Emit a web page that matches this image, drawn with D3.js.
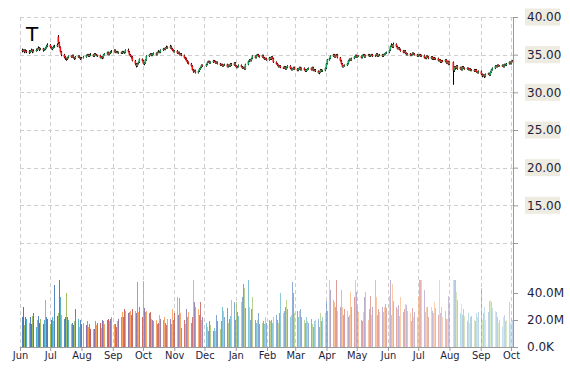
<!DOCTYPE html>
<html><head><meta charset="utf-8">
<script src="https://cdn.jsdelivr.net/npm/d3@7"></script>
<style>body{margin:0;background:#fff}svg{display:block}</style>
</head><body><svg id="c" width="570" height="370"></svg>
<script>
const ticker = "T";
const startDate = "2013-06-03";
const endDate = "2014-10-03";
const opens = [
35.6,35.5,35.6,35.4,35.5, 35.4,35.3,35.5,35.6,35.4, 35.5,35.6,35.8,35.9,35.7, 35.8,35.6,35.7,35.9,36.1,
36.3,36.0,35.8,35.9,36.0, 36.1,37.4,36.6,36.0,35.4, 35.0,34.7,34.5,34.4,34.6, 34.8,34.7,34.9,34.6,34.5,
34.7,34.8,34.6,34.5,34.6, 34.7,34.9,35.0,34.8,35.0, 35.0,34.8,35.1,35.0,34.9, 34.9,34.6,34.7,34.6,35.0,
35.1,35.3,35.0,35.2,35.4, 35.4,35.6,35.3,35.4,35.3, 35.3,35.2,35.4,35.3,35.3, 35.6,35.4,35.0,34.8,34.7,
34.2,33.8,33.5,33.8,34.0, 34.4,34.2,33.8,33.9,34.3, 34.8,35.0,35.1,34.9,35.1, 35.2,35.0,35.3,35.4,35.3,
35.6,35.8,35.7,35.9,36.0, 35.9,36.1,35.8,35.6,35.4, 35.5,35.2,35.3,35.0,35.1, 34.9,34.6,34.5,34.2,34.0,
33.8,33.5,33.0,32.8,32.9, 32.6,32.8,33.1,33.3,33.6, 33.5,33.7,34.0,34.1,33.9, 34.0,34.2,34.1,33.9,34.0,
33.8,33.6,33.7,33.5,33.6, 33.7,33.4,33.6,33.5,33.8, 33.6,33.9,33.5,33.3,33.4, 33.6,33.4,33.2,33.3,33.1,
33.7,34.1,34.3,34.2,34.5, 34.8,34.6,34.9,35.0,34.8, 34.7,34.9,34.6,34.4,34.5, 34.3,34.6,34.4,34.7,34.5,
34.0,33.8,33.6,33.4,33.5, 33.3,33.2,33.4,33.1,33.3, 33.5,33.2,33.0,33.1,33.3, 33.1,32.9,33.1,33.3,33.0,
33.2,33.0,32.8,33.0,33.1, 33.2,33.0,33.3,32.9,33.0, 32.8,32.6,32.7,33.0,32.8, 32.9,33.2,33.8,34.3,34.5,
34.8,35.0,34.7,34.9,35.0, 34.6,34.2,33.8,33.4,33.5, 33.6,33.8,34.2,34.4,34.3, 34.5,34.7,34.9,34.7,34.8,
34.8,34.6,34.9,35.0,34.7, 34.9,35.0,34.8,34.9,35.0, 34.8,34.9,35.1,34.8,34.9, 35.0,34.8,35.0,35.1,35.2,
35.3,35.6,36.1,36.3,36.0, 36.4,36.1,35.8,35.9,35.7, 35.5,35.3,35.5,35.2,35.0, 35.1,34.9,35.0,35.2,35.1,
35.0,34.8,34.9,35.0,34.8, 34.9,34.6,34.5,34.8,34.7, 34.5,34.7,34.4,34.6,34.4, 34.5,34.2,34.3,34.0,34.2,
34.1,34.3,33.9,34.1,33.7, 34.0,32.9,33.4,33.2,33.5, 33.1,33.3,33.0,33.4,33.2, 33.1,33.2,33.0,33.1,32.9,
33.0,32.8,33.0,32.7,32.6, 32.8,32.4,32.2,32.3,32.1, 32.4,32.5,32.3,32.7,33.0, 33.2,33.5,33.4,33.6,33.5,
33.5,33.6,33.4,33.7,33.6, 33.8,34.0,33.8,34.1,34.2
];
const highs = [
35.8,35.7,35.7,35.7,35.6, 35.6,35.6,35.8,35.7,35.7, 35.8,35.9,36.1,36.0,35.9, 35.9,35.8,36.0,36.3,36.5,
36.4,36.1,36.0,36.2,36.3, 36.5,37.6,36.7,36.1,35.5, 35.1,34.8,34.6,34.7,34.9, 34.9,35.0,35.0,34.7,34.8,
34.9,34.9,34.7,34.7,34.8, 35.0,35.1,35.1,35.1,35.2, 35.1,35.2,35.2,35.1,35.0, 35.0,34.8,34.8,35.1,35.2,
35.4,35.4,35.3,35.5,35.6, 35.7,35.7,35.5,35.5,35.4, 35.4,35.5,35.5,35.4,35.7, 35.8,35.5,35.1,34.9,34.8,
34.3,33.9,33.9,34.1,34.5, 34.5,34.3,34.0,34.4,34.9, 35.1,35.2,35.2,35.2,35.3, 35.3,35.4,35.6,35.5,35.7,
35.9,35.9,36.0,36.2,36.1, 36.3,36.2,35.9,35.7,35.6, 35.6,35.4,35.4,35.2,35.2, 35.0,34.7,34.6,34.3,34.1,
33.9,33.6,33.1,33.0,33.0, 32.9,33.2,33.4,33.7,33.7, 33.8,34.1,34.2,34.2,34.1, 34.3,34.3,34.2,34.1,34.1,
33.9,33.8,33.8,33.7,33.8, 33.8,33.7,33.7,33.9,33.9, 34.0,34.0,33.6,33.5,33.7, 33.7,33.5,33.4,33.4,33.8,
34.2,34.4,34.4,34.6,34.9, 34.9,35.0,35.1,35.1,34.9, 35.0,35.0,34.7,34.6,34.6, 34.7,34.7,34.8,34.8,34.6,
34.1,33.9,33.7,33.6,33.6, 33.4,33.5,33.5,33.4,33.6, 33.6,33.3,33.2,33.4,33.4, 33.2,33.2,33.4,33.4,33.3,
33.3,33.1,33.1,33.2,33.3, 33.3,33.4,33.4,33.1,33.1, 32.9,32.8,33.1,33.1,33.0, 33.3,33.9,34.4,34.6,34.9,
35.1,35.1,35.0,35.1,35.1, 34.7,34.3,33.9,33.6,33.7, 33.9,34.3,34.5,34.5,34.6, 34.8,35.0,35.0,34.9,34.9,
34.9,35.0,35.1,35.1,35.0, 35.1,35.1,35.0,35.1,35.1, 35.0,35.2,35.2,35.0,35.1, 35.1,35.1,35.2,35.3,35.4,
35.7,36.2,36.5,36.4,36.6, 36.5,36.2,36.0,36.0,35.8, 35.6,35.6,35.6,35.3,35.2, 35.2,35.1,35.3,35.3,35.2,
35.1,35.0,35.1,35.1,35.0, 35.0,34.7,34.9,34.9,34.8, 34.8,34.8,34.7,34.7,34.6, 34.6,34.4,34.4,34.3,34.3,
34.4,34.4,34.2,34.2,34.1, 34.1,33.5,33.5,33.6,33.6, 33.4,33.4,33.5,33.5,33.3, 33.3,33.3,33.2,33.2,33.1,
33.1,33.1,33.1,32.8,32.9, 32.9,32.5,32.4,32.4,32.5, 32.6,32.6,32.8,33.1,33.3, 33.6,33.6,33.7,33.7,33.6,
33.7,33.7,33.8,33.8,33.9, 34.1,34.1,34.2,34.3,34.3
];
const lows = [
35.3,35.4,35.2,35.3,35.2, 35.1,35.2,35.4,35.2,35.3, 35.4,35.5,35.7,35.5,35.6, 35.4,35.5,35.6,35.8,36.0,
35.9,35.7,35.6,35.8,35.9, 36.0,36.4,35.9,35.3,34.8, 34.5,34.3,34.2,34.3,34.5, 34.6,34.6,34.5,34.3,34.4,
34.6,34.5,34.3,34.4,34.5, 34.6,34.8,34.7,34.7,34.8, 34.7,34.7,34.9,34.8,34.7, 34.5,34.5,34.4,34.5,34.9,
35.0,34.9,34.9,35.1,35.2, 35.3,35.2,35.2,35.2,35.1, 35.1,35.1,35.2,35.1,35.2, 35.3,34.9,34.7,34.5,34.1,
33.6,33.3,33.4,33.7,33.9, 34.1,33.7,33.6,33.8,34.2, 34.7,34.9,34.8,34.8,35.0, 34.9,34.9,35.2,35.2,35.2,
35.5,35.6,35.6,35.8,35.8, 35.8,35.7,35.5,35.3,35.3, 35.1,35.1,34.9,34.9,34.8, 34.5,34.3,34.1,33.8,33.7,
33.4,32.9,32.6,32.7,32.5, 32.5,32.7,33.0,33.2,33.4, 33.4,33.6,33.9,33.8,33.8, 33.9,34.0,33.8,33.8,33.7,
33.5,33.5,33.4,33.4,33.5, 33.3,33.3,33.4,33.4,33.5, 33.5,33.4,33.2,33.2,33.3, 33.3,33.1,33.1,33.0,33.0,
33.6,34.0,34.1,34.1,34.4, 34.5,34.5,34.8,34.7,34.6, 34.6,34.5,34.3,34.3,34.2, 34.2,34.3,34.3,34.4,33.9,
33.7,33.5,33.3,33.3,33.2, 33.1,33.1,33.0,33.0,33.2, 33.1,32.9,32.9,33.0,33.0, 32.8,32.8,33.0,32.9,32.9,
32.9,32.7,32.7,32.9,33.0, 32.9,32.9,32.8,32.8,32.7, 32.5,32.4,32.6,32.7,32.7, 32.8,33.1,33.7,34.2,34.4,
34.7,34.6,34.6,34.8,34.5, 34.1,33.7,33.3,33.3,33.4, 33.5,33.7,34.1,34.2,34.2, 34.4,34.6,34.6,34.6,34.7,
34.5,34.5,34.8,34.6,34.6, 34.8,34.7,34.7,34.8,34.7, 34.7,34.8,34.7,34.7,34.8, 34.7,34.7,34.9,35.0,35.1,
35.2,35.5,36.0,35.9,35.9, 36.0,35.7,35.7,35.6,35.4, 35.2,35.2,35.1,34.9,34.9, 34.8,34.8,34.9,35.0,34.9,
34.7,34.7,34.8,34.7,34.7, 34.5,34.4,34.4,34.6,34.4, 34.4,34.3,34.3,34.3,34.3, 34.1,34.1,33.9,33.9,34.0,
34.0,33.8,33.8,33.6,33.6, 31.0,32.7,33.0,33.1,33.0, 33.0,32.9,32.9,33.1,33.0, 33.0,32.9,32.9,32.8,32.8,
32.7,32.7,32.6,32.5,32.5, 32.3,32.0,32.1,31.9,32.0, 32.3,32.2,32.2,32.6,32.9, 33.1,33.3,33.3,33.4,33.4,
33.4,33.3,33.3,33.5,33.5, 33.7,33.7,33.7,34.0,33.9
];
const closes = [
35.5,35.6,35.4,35.5,35.4, 35.3,35.5,35.6,35.4,35.5, 35.6,35.8,35.9,35.7,35.8, 35.6,35.7,35.9,36.1,36.3,
36.0,35.8,35.9,36.0,36.1, 36.3,36.6,36.0,35.4,35.0, 34.7,34.5,34.4,34.6,34.8, 34.7,34.9,34.6,34.5,34.7,
34.8,34.6,34.5,34.6,34.7, 34.9,35.0,34.8,35.0,35.0, 34.8,35.1,35.0,34.9,34.9, 34.6,34.7,34.6,35.0,35.1,
35.3,35.0,35.2,35.4,35.4, 35.6,35.3,35.4,35.3,35.3, 35.2,35.4,35.3,35.3,35.6, 35.4,35.0,34.8,34.7,34.2,
33.8,33.5,33.8,34.0,34.4, 34.2,33.8,33.9,34.3,34.8, 35.0,35.1,34.9,35.1,35.2, 35.0,35.3,35.4,35.3,35.6,
35.8,35.7,35.9,36.0,35.9, 36.1,35.8,35.6,35.4,35.5, 35.2,35.3,35.0,35.1,34.9, 34.6,34.5,34.2,34.0,33.8,
33.5,33.0,32.8,32.9,32.6, 32.8,33.1,33.3,33.6,33.5, 33.7,34.0,34.1,33.9,34.0, 34.2,34.1,33.9,34.0,33.8,
33.6,33.7,33.5,33.6,33.7, 33.4,33.6,33.5,33.8,33.6, 33.9,33.5,33.3,33.4,33.6, 33.4,33.2,33.3,33.1,33.7,
34.1,34.3,34.2,34.5,34.8, 34.6,34.9,35.0,34.8,34.7, 34.9,34.6,34.4,34.5,34.3, 34.6,34.4,34.7,34.5,34.0,
33.8,33.6,33.4,33.5,33.3, 33.2,33.4,33.1,33.3,33.5, 33.2,33.0,33.1,33.3,33.1, 32.9,33.1,33.3,33.0,33.2,
33.0,32.8,33.0,33.1,33.2, 33.0,33.3,32.9,33.0,32.8, 32.6,32.7,33.0,32.8,32.9, 33.2,33.8,34.3,34.5,34.8,
35.0,34.7,34.9,35.0,34.6, 34.2,33.8,33.4,33.5,33.6, 33.8,34.2,34.4,34.3,34.5, 34.7,34.9,34.7,34.8,34.8,
34.6,34.9,35.0,34.7,34.9, 35.0,34.8,34.9,35.0,34.8, 34.9,35.1,34.8,34.9,35.0, 34.8,35.0,35.1,35.2,35.3,
35.6,36.1,36.3,36.0,36.4, 36.1,35.8,35.9,35.7,35.5, 35.3,35.5,35.2,35.0,35.1, 34.9,35.0,35.2,35.1,35.0,
34.8,34.9,35.0,34.8,34.9, 34.6,34.5,34.8,34.7,34.5, 34.7,34.4,34.6,34.4,34.5, 34.2,34.3,34.0,34.2,34.1,
34.3,33.9,34.1,33.7,34.0, 32.9,33.4,33.2,33.5,33.1, 33.3,33.0,33.4,33.2,33.1, 33.2,33.0,33.1,32.9,33.0,
32.8,33.0,32.7,32.6,32.8, 32.4,32.2,32.3,32.1,32.4, 32.5,32.3,32.7,33.0,33.2, 33.5,33.4,33.6,33.5,33.5,
33.6,33.4,33.7,33.6,33.8, 34.0,33.8,34.1,34.2,34.0
];
// volume in millions of shares
const volumes = [
22,30,16,22,21, 18,22,17,23,25, 15,20,23,18,21, 17,20,35,22,21,
17,20,22,19,46, 23,25,50,37,24, 21,22,40,22,20, 17,18,16,19,28,
21,15,20,17,18, 16,19,15,17,13, 13,13,19,16,18, 18,14,20,19,17,
20,21,19,21,22, 17,17,15,19,21, 22,26,22,28,27, 25,26,27,24,28,
27,25,48,26,30, 22,49,29,26,27, 25,26,21,20,19, 20,17,18,24,21,
20,22,18,16,21, 21,17,28,20,25, 37,24,36,25,14, 20,17,28,22,26,
18,22,50,33,30, 28,24,33,20,22, 18,15,12,19,16, 12,14,12,24,19,
13,19,30,27,22, 29,18,21,23,35, 33,20,33,26,23, 33,37,47,44,29,
50,30,20,28,37, 20,18,20,25,17, 18,19,17,22,18, 20,19,20,18,22,
24,20,18,25,40, 25,27,30,35,28, 22,24,48,40,25, 27,22,27,28,22,
20,18,22,19,18, 21,17,15,19,20, 21,15,25,19,22, 25,34,27,50,42,
35,33,30,50,27, 30,42,30,24,28, 27,22,24,41,30, 37,50,41,30,26,
20,19,26,37,41, 20,28,38,24,30, 50,37,24,28,26, 30,26,30,32,29,
38,50,24,47,34, 30,28,31,23,37, 26,28,32,31,27, 25,19,29,22,26,
22,38,50,50,50, 42,26,30,30,22, 30,27,25,33,29, 24,50,25,30,22,
27,21,21,38,33, 50,50,50,41,35, 25,32,24,28,23, 19,25,18,22,23,
20,19,25,22,26, 44,20,25,30,20, 26,34,35,33,29, 27,26,22,18,20,
15,22,24,19,20, 33,18,22,20,25
];
const priceTicks = [40, 35, 30, 25, 20, 15, 10];
const priceTickLabels = ["40.00", "35.00", "30.00", "25.00", "20.00", "15.00", ""];
const volumeTicks = [40, 20, 0];
const volumeTickLabels = ["40.0M", "20.0M", "0.0K"];
const volumePalette = ["#4F81BD", "#C0504D", "#9BBB59", "#8064A2", "#4BACC6", "#F79646"];
const upColor = "#1aa35a", downColor = "#ff1111";

const parse = d3.utcParse("%Y-%m-%d");
const dates = [];
for (let d = parse(startDate); dates.length < closes.length; d = d3.utcDay.offset(d, 1)) {
  const wd = d.getUTCDay();
  if (wd !== 0 && wd !== 6) dates.push(d);
}
const rows = dates.map((date, i) => ({date, o: opens[i], h: highs[i], l: lows[i], c: closes[i], v: volumes[i], i}));

const svg = d3.select("#c");
const L = 20, R = 513, T = 17, PB = 243, VB = 347;
const x = d3.scaleUtc().domain([Date.UTC(2013, 5, 1), parse(endDate)]).range([L, R]);
const y = d3.scaleLinear().domain([10, 40]).range([PB, T]);
const yv = d3.scaleLinear().domain([0, 50]).range([VB, 279.5]);
const months = d3.utcMonth.range(Date.UTC(2013, 5, 1), Date.UTC(2014, 9, 2));

const grid = svg.append("g").attr("stroke", "#cfcfcf").attr("stroke-dasharray", "4,3").attr("shape-rendering", "crispEdges");
grid.selectAll("line.h").data(priceTicks).join("line")
  .attr("x1", L).attr("x2", R).attr("y1", d => Math.round(y(d)) + 0.5).attr("y2", d => Math.round(y(d)) + 0.5);
grid.selectAll("line.v").data(months).join("line")
  .attr("x1", d => Math.round(x(d)) + 0.5).attr("x2", d => Math.round(x(d)) + 0.5).attr("y1", T).attr("y2", VB);

// volume bars
svg.append("defs").append("clipPath").attr("id", "vc").append("rect")
  .attr("x", L).attr("y", 279).attr("width", R - L).attr("height", VB - 279);
const op = d3.scaleLinear().domain([0, rows.length - 1]).range([1, 0.32]);
svg.append("g").attr("clip-path", "url(#vc)").attr("shape-rendering", "crispEdges")
  .selectAll("rect").data(rows).join("rect")
  .attr("x", d => Math.round(x(d.date))).attr("width", 1)
  .attr("y", d => Math.round(yv(d.v))).attr("height", d => VB - Math.round(yv(d.v)))
  .attr("fill", d => volumePalette[d.i % volumePalette.length])
  .attr("fill-opacity", d => op(d.i));

// candles
const cg = svg.append("g");
cg.selectAll("line").data(rows).join("line")
  .attr("x1", d => Math.round(x(d.date)) + 0.5).attr("x2", d => Math.round(x(d.date)) + 0.5)
  .attr("y1", d => y(d.h)).attr("y2", d => y(d.l)).attr("stroke", "#000").attr("stroke-width", 1);
cg.selectAll("rect").data(rows).join("rect")
  .attr("x", d => Math.round(x(d.date)) - 0.5).attr("width", 1.6)
  .attr("y", d => y(Math.max(d.o, d.c)))
  .attr("height", d => Math.max(1, Math.abs(y(d.o) - y(d.c))))
  .attr("fill", d => d.c >= d.o ? upColor : downColor);

// axes
svg.append("line").attr("x1", R + 0.5).attr("x2", R + 0.5).attr("y1", T).attr("y2", VB)
  .attr("stroke", "#9a9a9a");
svg.append("line").attr("x1", L).attr("x2", R).attr("y1", VB + 0.5).attr("y2", VB + 0.5)
  .attr("stroke", "#9a9a9a");

const pAxis = svg.append("g").attr("transform", `translate(${R},0)`)
  .call(d3.axisRight(y).tickValues(priceTicks).tickSize(5).tickFormat(""));
pAxis.select(".domain").remove();
pAxis.selectAll(".tick line").attr("stroke", "#9a9a9a");
const vAxis = svg.append("g").attr("transform", `translate(${R},0)`)
  .call(d3.axisRight(yv).tickValues(volumeTicks).tickSize(5).tickFormat(""));
vAxis.select(".domain").remove();
vAxis.selectAll(".tick line").attr("stroke", "#9a9a9a");
const xAxis = svg.append("g").attr("transform", `translate(0,${VB})`)
  .call(d3.axisBottom(x).tickValues(months).tickSize(4).tickFormat(d3.utcFormat("%b")));
xAxis.select(".domain").remove();
xAxis.selectAll(".tick line").attr("stroke", "#9a9a9a");
xAxis.selectAll(".tick text").attr("dy", "0.55em").attr("y", 6)
  .attr("font-family", "'DejaVu Sans Condensed','DejaVu Sans',sans-serif").attr("font-size", 11).attr("fill", "#1e1e3c");

const pl = svg.append("g");
priceTicks.forEach((t, k) => {
  if (!priceTickLabels[k]) return;
  const yy = y(t);
  pl.append("rect").attr("x", 525).attr("y", yy - 8.5).attr("width", 35).attr("height", 17).attr("fill", "#eeebe0");
  pl.append("text").attr("x", 527).attr("y", yy).attr("dy", "0.35em")
    .attr("font-family", "'DejaVu Sans',sans-serif").attr("font-size", 12).attr("fill", "#1e1e3c")
    .text(priceTickLabels[k]);
});
volumeTicks.forEach((t, k) => {
  pl.append("text").attr("x", 527).attr("y", yv(t)).attr("dy", "0.35em")
    .attr("font-family", "'DejaVu Sans',sans-serif").attr("font-size", 12).attr("fill", "#1e1e3c")
    .text(volumeTickLabels[k]);
});

svg.append("text").attr("x", 26).attr("y", 41).attr("font-family", "'DejaVu Sans',sans-serif")
  .attr("font-size", 20).attr("fill", "#000").text(ticker);
</script></body></html>
